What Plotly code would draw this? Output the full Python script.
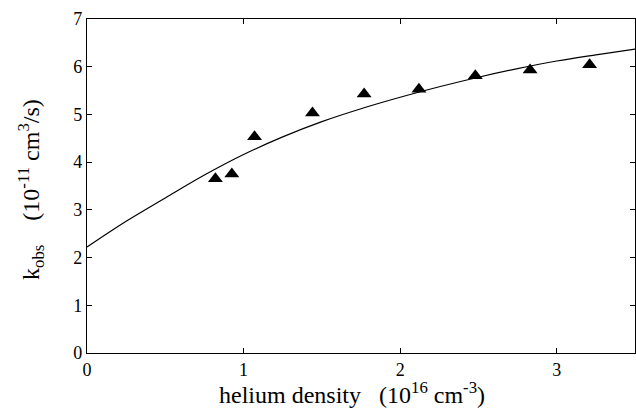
import plotly.graph_objects as go

# measured points (helium density, k_obs)
density = [0.82, 0.925, 1.07, 1.44, 1.77, 2.12, 2.48, 2.83, 3.21]
k_obs = [3.65, 3.75, 4.53, 5.03, 5.43, 5.53, 5.81, 5.93, 6.04]

# fit curve
fit_x = [0, 0.25, 0.5, 0.75, 1.0, 1.25, 1.5, 1.75, 2.0, 2.25, 2.5, 2.75, 3.0, 3.25, 3.5]
fit_y = [2.22, 2.76, 3.25, 3.73, 4.16, 4.53, 4.85, 5.12, 5.36, 5.58, 5.78, 5.96, 6.12, 6.25, 6.37]

x_ticks = [0, 1, 2, 3]
y_ticks = [0, 1, 2, 3, 4, 5, 6, 7]

FONT = "Liberation Serif, Times New Roman, serif"

fig = go.Figure()
fig.add_trace(go.Scatter(x=fit_x, y=fit_y, mode="lines",
                         line=dict(color="black", width=1.2, shape="spline"),
                         showlegend=False, hoverinfo="skip"))
fig.add_trace(go.Scatter(x=density, y=k_obs, mode="markers",
                         marker=dict(symbol="triangle-up", size=13, color="black"),
                         showlegend=False))

axis_common = dict(showline=True, linecolor="black", linewidth=1.3, mirror="ticks",
                   ticks="inside", ticklen=5, tickcolor="black", tickwidth=1,
                   showgrid=False, zeroline=False,
                   tickfont=dict(family=FONT, size=18, color="black"))

fig.update_xaxes(range=[0, 3.5], tickvals=x_ticks, ticktext=[str(v) for v in x_ticks], **axis_common)
fig.update_yaxes(range=[0, 7], tickvals=y_ticks, ticktext=[str(v) for v in y_ticks], **axis_common)

nb = "\u00a0"
fig.add_annotation(text="helium density" + nb * 3 + "(10<sup>16</sup> cm<sup>-3</sup>)",
                   xref="paper", yref="paper", x=(352 - 87) / 548, y=-(410 - 353) / 334,
                   xanchor="center", yanchor="bottom", showarrow=False,
                   font=dict(family=FONT, size=24, color="black"))
fig.add_annotation(text="k<sub>obs</sub>" + nb * 4 + "(10<sup>-11</sup> cm<sup>3</sup>/s)",
                   xref="paper", yref="paper", x=-(87 - 31) / 548, y=(353 - 190) / 334,
                   xanchor="center", yanchor="middle", textangle=-90, showarrow=False,
                   font=dict(family=FONT, size=24, color="black"))

fig.update_layout(width=636, height=411,
                  margin=dict(l=87, r=1, t=19, b=58),
                  paper_bgcolor="white", plot_bgcolor="white")

fig.write_html("out.html", config={"displayModeBar": False},
               post_script="document.body.style.margin='0';")
